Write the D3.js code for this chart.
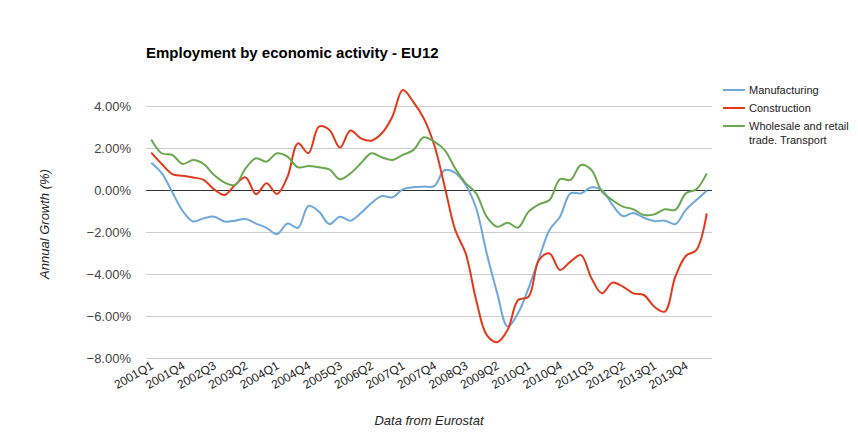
<!DOCTYPE html>
<html><head><meta charset="utf-8">
<script src="https://cdn.jsdelivr.net/npm/d3@7"></script>
<style>body{margin:0;background:#fff;font-family:Arial,"Liberation Sans",sans-serif;}</style>
</head><body><svg id="c" width="858" height="444"></svg>
<script>
const years = [2001,2002,2003,2004,2005,2006,2007,2008,2009,2010,2011,2012,2013,2014];
const quarters = [];
years.forEach(y => [1,2,3,4].forEach(q => { if (!(y === 2014 && q > 2)) quarters.push(y + "Q" + q); }));
const manufacturing = [1.3,0.8,-0.1,-1.0,-1.5,-1.35,-1.27,-1.5,-1.46,-1.38,-1.6,-1.8,-2.1,-1.6,-1.8,-0.76,-1.03,-1.62,-1.27,-1.46,-1.1,-0.63,-0.29,-0.35,0.03,0.13,0.16,0.19,0.95,0.82,0.24,-0.87,-3.0,-4.9,-6.5,-5.86,-4.67,-3.24,-1.9,-1.27,-0.16,-0.16,0.13,0.0,-0.71,-1.24,-1.1,-1.32,-1.48,-1.46,-1.62,-0.95,-0.48,-0.03];
const construction = [1.78,1.24,0.76,0.68,0.6,0.48,0.03,-0.24,0.24,0.6,-0.2,0.32,-0.19,0.63,2.22,1.75,3.02,2.86,2.02,2.83,2.46,2.35,2.7,3.49,4.76,4.2,3.41,2.14,0.16,-1.9,-3.02,-5.24,-6.9,-7.25,-6.67,-5.24,-5.08,-3.33,-3.02,-3.81,-3.41,-3.1,-4.2,-4.92,-4.41,-4.6,-4.92,-5.0,-5.56,-5.79,-4.13,-3.14,-2.86,-1.11];
const wholesale = [2.41,1.75,1.67,1.24,1.43,1.24,0.71,0.35,0.24,1.03,1.51,1.35,1.75,1.59,1.08,1.14,1.08,0.98,0.51,0.79,1.27,1.75,1.56,1.43,1.67,1.9,2.51,2.3,1.9,1.03,0.32,-0.16,-1.27,-1.75,-1.56,-1.79,-1.03,-0.68,-0.48,0.52,0.48,1.19,0.95,-0.08,-0.48,-0.79,-0.92,-1.19,-1.16,-0.92,-0.95,-0.16,0.03,0.79];
const yTicks = [-8,-6,-4,-2,0,2,4];
const seriesNames = ["Manufacturing","Construction","Wholesale and retail trade. Transport"];
const seriesColors = ["#6fa8dc","#e3391a","#6aa84f"];
const seriesData = [manufacturing, construction, wholesale];

const svg = d3.select("#c");
const x = d3.scaleBand().domain(quarters).range([146, 712]);
const y = d3.scaleLinear().domain([-8, 4]).range([358, 106]);
const cx = q => x(q) + x.bandwidth() / 2;

// gridlines
svg.append("g").selectAll("line").data(yTicks).join("line")
  .attr("x1", 146).attr("x2", 712)
  .attr("y1", d => y(d)).attr("y2", d => y(d))
  .attr("stroke", d => d === 0 ? "#333" : "#ccc").attr("stroke-width", 1)
  .attr("shape-rendering", "crispEdges");

// y labels
svg.append("g").selectAll("text").data(yTicks).join("text")
  .attr("x", 131).attr("y", d => y(d) + 5)
  .attr("text-anchor", "end").attr("font-size", 13).attr("fill", "#444")
  .text(d => d3.format(".2f")(d) + "%");

// x labels
const shown = quarters.filter((q, i) => i % 3 === 0);
svg.append("g").selectAll("text").data(shown).join("text")
  .attr("transform", d => `translate(${cx(d) + 3},${368}) rotate(-30)`)
  .attr("text-anchor", "end").attr("font-size", 12).attr("fill", "#222")
  .text(d => d);

// lines
const line = d3.line().x((d, i) => cx(quarters[i])).y(d => y(d)).curve(d3.curveCatmullRom.alpha(0.5));
seriesData.forEach((s, k) => {
  svg.append("path").attr("d", line(s)).attr("fill", "none")
    .attr("stroke", seriesColors[k]).attr("stroke-width", 2);
});

// title
svg.append("text").attr("x", 146).attr("y", 58).attr("font-size", 15).attr("font-weight", "bold")
  .attr("fill", "#000").text("Employment by economic activity - EU12");

// axis titles
svg.append("text").attr("transform", "translate(49,224) rotate(-90)").attr("text-anchor", "middle")
  .attr("font-size", 13).attr("font-style", "italic").attr("fill", "#222").text("Annual Growth (%)");
svg.append("text").attr("x", 429).attr("y", 425).attr("text-anchor", "middle")
  .attr("font-size", 13).attr("font-style", "italic").attr("fill", "#222").text("Data from Eurostat");

// legend
const lg = svg.append("g");
const legendRows = [{n:["Manufacturing"], y:90},{n:["Construction"], y:108},{n:["Wholesale and retail","trade. Transport"], y:126}];
legendRows.forEach((r, k) => {
  lg.append("line").attr("x1", 723).attr("x2", 745).attr("y1", r.y).attr("y2", r.y)
    .attr("stroke", seriesColors[k]).attr("stroke-width", 2);
  r.n.forEach((t, j) => lg.append("text").attr("x", 749).attr("y", r.y + 4 + j * 14)
    .attr("font-size", 11).attr("fill", "#222").text(t));
});
</script></body></html>
